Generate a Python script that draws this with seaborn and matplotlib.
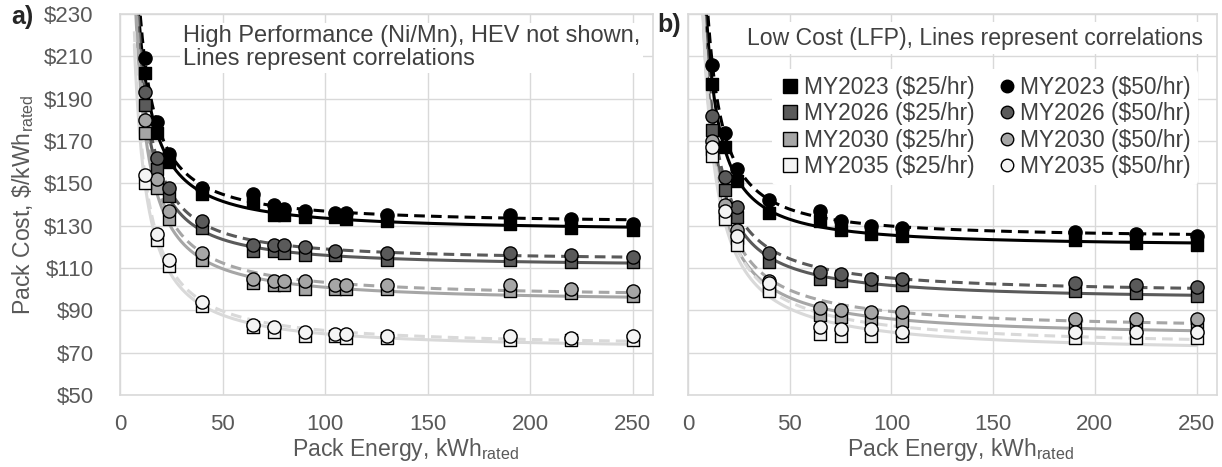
import numpy as np
import pandas as pd
import matplotlib
matplotlib.use("Agg")
import matplotlib.pyplot as plt
from matplotlib.lines import Line2D
import seaborn as sns

# ---------------- data ----------------
years = ["MY2023", "MY2026", "MY2030", "MY2035"]
rates = ["$25/hr", "$50/hr"]

# Panel a: High Performance (Ni/Mn)
xa = [12, 18, 24, 40, 65, 75, 80, 90, 105, 110, 130, 190, 220, 250]
a_2023_25 = [202, 174, 160, 145, 141, 135, 135, 134, 134, 133, 132, 131, 129, 128]
a_2023_50 = [209, 179, 164, 148, 145, 140, 138, 137, 136, 136, 135, 135, 133, 131]
a_2026_25 = [187, 157, 144, 129, 118, 118, 117, 116, 116, None, 114, 114, 113, 113]
a_2026_50 = [193, 162, 148, 132, 121, 121, 121, 120, 118, None, 117, 117, 116, 115]
a_2030_25 = [174, 148, 133, 114, 103, 102, 102, 100, 100, 100, 100, 99, 98, 97]
a_2030_50 = [180, 152, 137, 117, 105, 104, 104, 104, 102, 102, 102, 102, 100, 99]
a_2035_25 = [150, 123, 111, 92, 82, 80, None, 78, 78, 77, 77, 76, 76, 76]
a_2035_50 = [154, 126, 114, 94, 83, 82, None, 80, 79, 79, 78, 78, 77, 78]

# Panel b: Low Cost (LFP)
xb = [12, 18, 24, 40, 65, 75, 90, 105, 190, 220, 250]
b_2023_25 = [197, 167, 151, 136, 132, 128, 126, 125, 123, 122, 121]
b_2023_50 = [206, 174, 157, 142, 137, 132, 130, 129, 127, 126, 125]
b_2026_25 = [175, 147, 134, 113, 105, 104, 102, 102, 99, 98, 97]
b_2026_50 = [182, 153, 139, 117, 108, 107, 105, 105, 103, 102, 101]
b_2030_25 = [166, 136, 124, 100, 88, 87, 86, 85, 83, 82, 82]
b_2030_50 = [170, 140, 128, 104, 91, 90, 89, 89, 86, 86, 86]
b_2035_25 = [163, 133, 121, 99, 79, 78, 78, 78, 77, 77, 77]
b_2035_50 = [167, 137, 125, 103, 82, 81, 81, 80, 80, 80, 80]

xticks = [0, 50, 100, 150, 200, 250]
yticks = [50, 70, 90, 110, 130, 150, 170, 190, 210, 230]
ytick_labels = ["$50", "$70", "$90", "$110", "$130", "$150", "$170", "$190", "$210", "$230"]

panel_a = {("MY2023", "$25/hr"): a_2023_25, ("MY2023", "$50/hr"): a_2023_50,
           ("MY2026", "$25/hr"): a_2026_25, ("MY2026", "$50/hr"): a_2026_50,
           ("MY2030", "$25/hr"): a_2030_25, ("MY2030", "$50/hr"): a_2030_50,
           ("MY2035", "$25/hr"): a_2035_25, ("MY2035", "$50/hr"): a_2035_50}
panel_b = {("MY2023", "$25/hr"): b_2023_25, ("MY2023", "$50/hr"): b_2023_50,
           ("MY2026", "$25/hr"): b_2026_25, ("MY2026", "$50/hr"): b_2026_50,
           ("MY2030", "$25/hr"): b_2030_25, ("MY2030", "$50/hr"): b_2030_50,
           ("MY2035", "$25/hr"): b_2035_25, ("MY2035", "$50/hr"): b_2035_50}

# ---------------- style ----------------
fill = {"MY2023": "#000000", "MY2026": "#5a5a5a", "MY2030": "#a6a6a6", "MY2035": "#f4f4f4"}
linec = {"MY2023": "#000000", "MY2026": "#5a5a5a", "MY2030": "#a6a6a6", "MY2035": "#d9d9d9"}
marker = {"$25/hr": "s", "$50/hr": "o"}
lstyle = {"$25/hr": "-", "$50/hr": (0, (3.5, 2))}
txt = "#595959"
gridc = "#d9d9d9"

sns.set_theme(style="whitegrid")
plt.rcParams["font.family"] = ["Liberation Sans", "DejaVu Sans"]
plt.rcParams["mathtext.fontset"] = "custom"
plt.rcParams["mathtext.rm"] = "Liberation Sans"
plt.rcParams["mathtext.it"] = "Liberation Sans"

fig = plt.figure(figsize=(12.22, 4.67), dpi=100)
axa = fig.add_axes([120 / 1222, 1 - 395 / 467, 533 / 1222, 381 / 467])
axb = fig.add_axes([688 / 1222, 1 - 395 / 467, 529 / 1222, 381 / 467])


def fit_power(x, y):
    """Least-squares fit of y = a + b * x**(-c) (c searched on a grid)."""
    best = None
    for c in np.arange(0.7, 2.01, 0.05):
        b, a = np.polyfit(x ** (-c), y, 1)
        r = np.sum((a + b * x ** (-c) - y) ** 2)
        if best is None or r < best[0]:
            best = (r, a, b, c)
    return best[1:]


def draw(ax, xs, panel, xlabel_x):
    xs = np.asarray(xs, dtype=float)
    rows = []
    for (yr, rt), vals in panel.items():
        for xv, yv in zip(xs, vals):
            if yv is not None:
                rows.append(dict(year=yr, rate=rt, x=xv, y=float(yv)))
    df = pd.DataFrame(rows)
    # correlation curves fitted to the points
    grid = np.linspace(7.0, 250, 500)
    for (yr, rt), sub in df.groupby(["year", "rate"]):
        a, b, c = fit_power(sub["x"].values, sub["y"].values)
        fit = pd.DataFrame(dict(x=grid, y=a + b * grid ** (-c)))
        sns.lineplot(data=fit, x="x", y="y", ax=ax, color=linec[yr],
                     linestyle=lstyle[rt], lw=2.2, sort=False, estimator=None,
                     zorder=2)
    # markers
    for rt in rates:
        for yr in years:
            sub = df[(df.year == yr) & (df.rate == rt)]
            sns.scatterplot(data=sub, x="x", y="y", ax=ax, marker=marker[rt],
                            color=fill[yr], edgecolor="black", linewidth=1.0,
                            s=85 if rt == "$25/hr" else 90, zorder=3 if rt == "$25/hr" else 4,
                            legend=False)
    ax.set_xlim(0, 260)
    ax.set_ylim(50, 230)
    ax.set_xticks(xticks)
    ax.set_yticks(yticks)
    ax.grid(True, color=gridc, lw=1)
    for s in ax.spines.values():
        s.set_color(gridc)
        s.set_linewidth(1.2)
    ax.tick_params(axis="both", length=0, labelsize=16, labelcolor=txt)
    ax.tick_params(axis="x", pad=14)
    ax.tick_params(axis="y", pad=19)
    ax.set_xlabel(r"Pack Energy, kWh$_{\mathrm{rated}}$", fontsize=16.6, color=txt)
    ax.xaxis.set_label_coords(xlabel_x, -0.108)
    ax.set_ylabel("")


draw(axa, xa, panel_a, 0.535)
draw(axb, xb, panel_b, 0.516)

axa.set_yticklabels(ytick_labels)
axb.set_yticklabels([])
axb.tick_params(axis="y", pad=0)
axa.set_ylabel(r"Pack Cost, \$/kWh$_{\mathrm{rated}}$", fontsize=16.6, color=txt, labelpad=6)

axa.text(0.118, 0.97, "High Performance (Ni/Mn), HEV not shown,\nLines represent correlations",
         transform=axa.transAxes, ha="left", va="top", fontsize=17, color="#404040",
         linespacing=1.05, zorder=5,
         bbox=dict(facecolor="white", edgecolor="none", pad=2))
axb.text(0.974, 0.937, "Low Cost (LFP), Lines represent correlations",
         transform=axb.transAxes, ha="right", va="center", fontsize=16.6, color="#404040",
         zorder=5, bbox=dict(facecolor="white", edgecolor="none", pad=3))

handles = []
labels = []
for rt in rates:
    for yr in years:
        handles.append(Line2D([], [], linestyle="none", marker=marker[rt],
                              markerfacecolor=fill[yr], markeredgecolor="black",
                              markersize=10 if rt == "$25/hr" else 9))
        labels.append(f"{yr} ({rt})")
leg = axb.legend(handles, labels, ncol=2, loc="upper right", bbox_to_anchor=(0.985, 0.885),
                 fontsize=16.4, frameon=True, facecolor="white", edgecolor="none",
                 framealpha=1, handletextpad=0.1, columnspacing=0.9, labelspacing=0.15,
                 borderpad=0.3, handlelength=1.0)
for t in leg.get_texts():
    t.set_color("#404040")
leg.set_zorder(6)

fig.text(11 / 1222, 1 - 17 / 467, "a)", fontsize=18, fontweight="bold", va="center", ha="left")
fig.text(657 / 1222, 1 - 25 / 467, "b)", fontsize=18, fontweight="bold", va="center", ha="left")

fig.savefig("out.png", dpi=100)
